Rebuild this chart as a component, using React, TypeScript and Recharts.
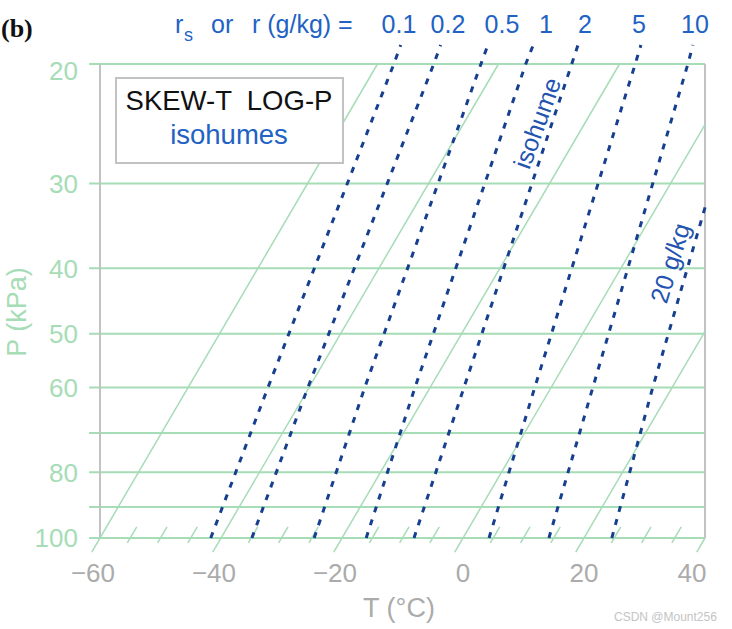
import React from 'react';
import { ComposedChart, Line, XAxis, YAxis, ReferenceLine } from 'recharts';

// isobars (kPa); only some of them carry a label
const isobars = [20, 30, 40, 50, 60, 70, 80, 90, 100];
const pressureLabels = [20, 30, 40, 50, 60, 80, 100];
// isotherms (°C) and the short slanted marks along the 100 kPa line
const isotherms = [-60, -40, -20, 0, 20, 40];
const smallTicks = [-55, -50, -45, -35, -30, -25, -15, -10, -5, 5, 10, 15, 25, 30, 35];
const tempTicks = [-60, -40, -20, 0, 20, 40];

// isohumes: dew point (°C) at the pressure levels in isohumeP
const isohumeP = [100, 60, 20, 18.75];
const r01 = [-41.7, -46.8, -57.3, -58.0];
const r02 = [-34.9, -40.2, -50.7, -51.4];
const r05 = [-24.6, -30.8, -42.9, -43.6];
const r1 = [-16.0, -22.5, -35.5, -36.1];
const r2 = [-8.1, -14.4, -27.9, -28.7];
const r5 = [4.3, -2.7, -17.4, -18.3];
const r10 = [14.2, 6.9, -8.7, -9.7];
// 20 g/kg runs out at the right edge
const r20P = [100, 60, 32.5];
const r20 = [24.6, 16.8, 8.0];
const ratioLabels = ['0.1', '0.2', '0.5', '1', '2', '5', '10'];

// skew of the isotherms, °C per unit of ln(P)
const SKEW = 28.5;
const skew = (t: number, p: number) => t + SKEW * Math.log(100 / p);

const W = 732;
const H = 629;
const PX = 6.05; // px per °C
const X_MIN = -62;
const X_MAX = 42;
const P_TOP = 18;
const P_BOT = 106;
const LN_PX = 474 / Math.log(5);
const plotLeft = 100 + (X_MIN + 60) * PX;
const plotRight = 705 + (X_MAX - 40) * PX;
const plotTop = 64 - LN_PX * Math.log(20 / P_TOP);
const plotBottom = 538 + LN_PX * Math.log(P_BOT / 100);
const YAXIS_W = 80;
const XAXIS_H = 40;

const GREEN = '#a6dcb6';
const GRAY = '#c2c2c2';
const NAVY = '#173f8f';
const BLUE = '#2162c4';
const FONT = '"Liberation Sans", Arial, Helvetica, sans-serif';

const isothermSegs = isotherms.map((t) => {
  const pLow = 104.9;
  let pHigh = 20;
  if (skew(t, 20) > 40) pHigh = 100 * Math.exp(-(40 - t) / SKEW);
  return [
    { x: skew(t, pLow), p: pLow },
    { x: skew(t, pHigh), p: pHigh },
  ];
});

const tickSegs = smallTicks.map((t) => [
  { x: skew(t, 101.7), p: 101.7 },
  { x: skew(t, 96.3), p: 96.3 },
]);

const isohumes = [r01, r02, r05, r1, r2, r5, r10]
  .map((ts) => ts.map((t, i) => ({ x: skew(t, isohumeP[i]), p: isohumeP[i] })))
  .concat([r20.map((t, i) => ({ x: skew(t, r20P[i]), p: r20P[i] }))]);

const labelX = [399, 448, 502, 546, 585, 639, 695];

const XTick = (props: any) => {
  const { x, y, payload } = props;
  const v = payload.value;
  const txt = v < 0 ? '\u2212' + Math.abs(v) : String(v);
  const dx = v < 0 ? -7 : v === 40 ? -13 : 0;
  return (
    <text x={x + dx} y={y + 27} textAnchor="middle" fill="#ababab" fontSize={26} fontFamily={FONT}>
      {txt}
    </text>
  );
};

const YTick = (props: any) => {
  const { x, y, payload } = props;
  if (!pressureLabels.includes(payload.value)) return <g />;
  const shift = payload.value === 20 ? 7 : 0;
  return (
    <text x={x} y={y + shift} dy="0.36em" textAnchor="end" fill={GREEN} fontSize={26} fontFamily={FONT}>
      {payload.value}
    </text>
  );
};

export default function App() {
  return (
    <div style={{ position: 'absolute', left: 0, top: 0, width: W, height: H, background: '#fff' }}>
      <ComposedChart
        width={W}
        height={H}
        margin={{
          left: plotLeft - YAXIS_W,
          right: W - plotRight,
          top: plotTop,
          bottom: H - plotBottom - XAXIS_H,
        }}
      >
        <XAxis
          type="number"
          dataKey="x"
          domain={[X_MIN, X_MAX]}
          ticks={tempTicks}
          interval={0}
          allowDataOverflow
          axisLine={false}
          tickLine={false}
          tickSize={0}
          tickMargin={0}
          height={XAXIS_H}
          tick={<XTick />}
        />
        <YAxis
          type="number"
          scale="log"
          domain={[P_TOP, P_BOT]}
          ticks={isobars}
          interval={0}
          reversed
          allowDataOverflow
          axisLine={false}
          tickLine={false}
          tickSize={0}
          tickMargin={10}
          width={YAXIS_W}
          tick={<YTick />}
        />
        {isobars.map((p) => (
          <ReferenceLine
            key={'iso' + p}
            segment={[{ x: -61.8, y: p }, { x: 40, y: p }]}
            stroke={GREEN}
            strokeWidth={2}
          />
        ))}
        <ReferenceLine segment={[{ x: -60, y: 20 }, { x: -60, y: 100 }]} stroke={GRAY} strokeWidth={2} />
        <ReferenceLine segment={[{ x: 40, y: 20 }, { x: 40, y: 100 }]} stroke={GRAY} strokeWidth={2} />
        {isothermSegs.map((d, i) => (
          <Line
            key={'t' + i}
            data={d}
            dataKey="p"
            stroke={GREEN}
            strokeWidth={1.5}
            dot={false}
            activeDot={false}
            isAnimationActive={false}
          />
        ))}
        {tickSegs.map((d, i) => (
          <Line
            key={'k' + i}
            data={d}
            dataKey="p"
            stroke={GREEN}
            strokeWidth={1.5}
            dot={false}
            activeDot={false}
            isAnimationActive={false}
          />
        ))}
        {isohumes.map((d, i) => (
          <Line
            key={'r' + i}
            data={d}
            dataKey="p"
            stroke={NAVY}
            strokeWidth={3}
            strokeDasharray="6 7.5"
            dot={false}
            activeDot={false}
            isAnimationActive={false}
          />
        ))}
      </ComposedChart>

      <svg
        width={W}
        height={H}
        style={{ position: 'absolute', left: 0, top: 0, pointerEvents: 'none' }}
        fontFamily={FONT}
      >
        <text x={1} y={37} fontSize={26} fontWeight="bold" fontFamily='"Liberation Serif", "DejaVu Serif", serif' fill="#111">
          (b)
        </text>

        <text x={175} y={33} fontSize={25} fill={BLUE}>r</text>
        <text x={184} y={41} fontSize={18} fill={BLUE}>s</text>
        <text x={211} y={33} fontSize={25} fill={BLUE}>or</text>
        <text x={252} y={33} fontSize={25} fill={BLUE}>r (g/kg) =</text>
        {ratioLabels.map((s, i) => (
          <text key={s} x={labelX[i]} y={33} fontSize={25} fill={BLUE} textAnchor="middle">
            {s}
          </text>
        ))}

        <rect x={116} y={78} width={227} height={85} fill="#fff" stroke={GRAY} strokeWidth={2} />
        <text x={229} y={110} fontSize={27.5} fill="#111" textAnchor="middle" style={{ whiteSpace: 'pre' }}>
          {'SKEW-T  LOG-P'}
        </text>
        <text x={229} y={144} fontSize={27.5} fill={BLUE} textAnchor="middle">
          isohumes
        </text>

        <text
          x={537}
          y={123}
          fontSize={25}
          fill="#2354b0"
          textAnchor="middle"
          dominantBaseline="central"
          transform="rotate(-70 537 123)"
        >
          isohume
        </text>
        <text
          x={670}
          y={263}
          fontSize={25}
          fill="#2354b0"
          textAnchor="middle"
          dominantBaseline="central"
          transform="rotate(-73 670 263)"
        >
          20 g/kg
        </text>

        <text
          x={17}
          y={312}
          fontSize={27}
          fill={GREEN}
          textAnchor="middle"
          dominantBaseline="central"
          transform="rotate(-90 17 312)"
        >
          P (kPa)
        </text>
        <text x={399} y={617} fontSize={27} fill="#ababab" textAnchor="middle">
          T (°C)
        </text>
        <text x={614} y={621} fontSize={12} fill="#c4c4c4">
          CSDN @Mount256
        </text>
      </svg>
    </div>
  );
}
